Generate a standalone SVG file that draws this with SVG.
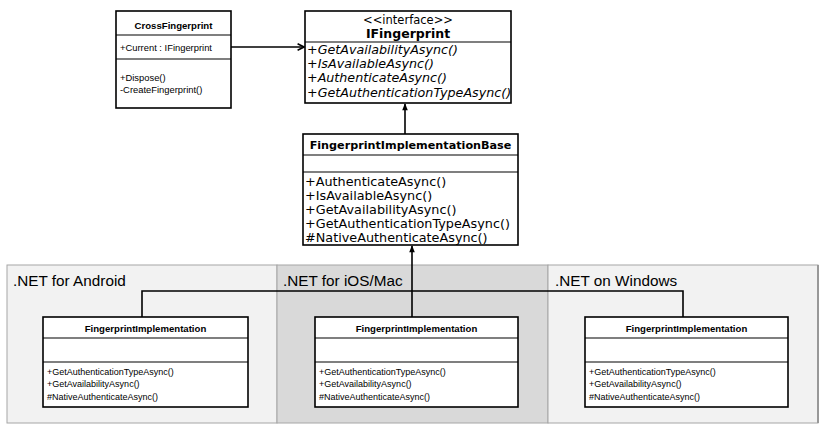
<svg xmlns="http://www.w3.org/2000/svg" width="825" height="432" viewBox="0 0 825 432">
<defs>
<style>
.box{fill:#fff;stroke:#000;stroke-width:1.6}
.div{stroke:#000;stroke-width:1.2}
.panel{stroke:#a6a6a6;stroke-width:1}
.conn{fill:none;stroke:#000;stroke-width:1.6}
.s{font-family:"Liberation Sans",Arial,sans-serif;font-size:9px;fill:#000}
.sb{font-family:"Liberation Sans",Arial,sans-serif;font-size:9.6px;font-weight:bold;fill:#000}
.m{font-family:"DejaVu Sans",Verdana,sans-serif;font-size:12.8px;fill:#000}
.mi{font-family:"DejaVu Sans",Verdana,sans-serif;font-size:12.7px;font-style:italic;fill:#000}
.mb{font-family:"DejaVu Sans",Verdana,sans-serif;font-size:11.2px;font-weight:bold;fill:#000}
.lbl{font-family:"Liberation Sans",Arial,sans-serif;font-size:15.3px;fill:#000}
</style>
<marker id="open" viewBox="0 0 10 10" refX="9" refY="5" markerWidth="8" markerHeight="8" markerUnits="userSpaceOnUse" orient="auto"><path d="M1,1 L9,5 L1,9" fill="none" stroke="#000" stroke-width="2"/></marker>
<marker id="tri" viewBox="0 0 10 10" refX="9" refY="5" markerWidth="8" markerHeight="7" markerUnits="userSpaceOnUse" orient="auto"><path d="M0,1 L10,5 L0,9 Z" fill="#000"/></marker>
</defs>
<rect width="825" height="432" fill="#fff"/>
<g id="panels">
<rect class="panel" x="7" y="265" width="270" height="158" fill="#f2f2f2"/>
<rect class="panel" x="277" y="265" width="271" height="158" fill="#d9d9d9"/>
<rect class="panel" x="548" y="265" width="270" height="158" fill="#f2f2f2"/>
<line x1="818" y1="265" x2="818" y2="423" stroke="#999" stroke-width="2"/>
<text class="lbl" x="13" y="286">.NET for Android</text>
<text class="lbl" x="283" y="286">.NET for iOS/Mac</text>
<text class="lbl" x="555" y="286">.NET on Windows</text>
</g>
<g id="connectors">
<line class="conn" x1="231" y1="47" x2="304" y2="47" marker-end="url(#open)"/>
<line class="conn" x1="405" y1="134" x2="405" y2="104" marker-end="url(#tri)"/>
<line class="conn" x1="412" y1="317" x2="412" y2="246" marker-end="url(#tri)"/>
<polyline class="conn" points="142,317 142,291 683,291 683,317"/>
</g>
<g id="CrossFingerprint">
<rect class="box" x="116" y="11" width="115" height="97"/>
<line class="div" x1="116" y1="35" x2="231" y2="35"/>
<line class="div" x1="116" y1="59" x2="231" y2="59"/>
<text class="sb" x="173.5" y="29" text-anchor="middle">CrossFingerprint</text>
<text class="s" x="120" y="51" style="font-size:9.4px">+Current : IFingerprint</text>
<text class="s" x="120" y="81" style="font-size:9.4px">+Dispose()</text>
<text class="s" x="120" y="93" style="font-size:9.4px">-CreateFingerprint()</text>
</g>
<g id="IFingerprint">
<rect class="box" x="305" y="11" width="206" height="92"/>
<line class="div" x1="305" y1="42" x2="511" y2="42"/>
<text class="m" x="408" y="24" text-anchor="middle" style="font-size:11.5px">&lt;&lt;interface&gt;&gt;</text>
<text class="mb" x="408" y="38" text-anchor="middle" style="font-size:12.5px">IFingerprint</text>
<text class="mi" x="307" y="54">+GetAvailabilityAsync()</text>
<text class="mi" x="307" y="68">+IsAvailableAsync()</text>
<text class="mi" x="307" y="82">+AuthenticateAsync()</text>
<text class="mi" x="307" y="97">+GetAuthenticationTypeAsync()</text>
</g>
<g id="FingerprintImplementationBase">
<rect class="box" x="303" y="134" width="215" height="111"/>
<line class="div" x1="303" y1="155" x2="518" y2="155"/>
<line class="div" x1="303" y1="172" x2="518" y2="172"/>
<text class="mb" x="410.5" y="149" text-anchor="middle">FingerprintImplementationBase</text>
<text class="m" x="305" y="186">+AuthenticateAsync()</text>
<text class="m" x="305" y="200">+IsAvailableAsync()</text>
<text class="m" x="305" y="214">+GetAvailabilityAsync()</text>
<text class="m" x="305" y="228">+GetAuthenticationTypeAsync()</text>
<text class="m" x="305" y="242">#NativeAuthenticateAsync()</text>
</g>
<g id="AndroidImpl">
<rect class="box" x="43" y="317" width="205" height="90"/>
<line class="div" x1="43" y1="338" x2="248" y2="338"/>
<line class="div" x1="43" y1="362" x2="248" y2="362"/>
<text class="sb" x="145.5" y="332" text-anchor="middle">FingerprintImplementation</text>
<text class="s" x="47" y="375">+GetAuthenticationTypeAsync()</text>
<text class="s" x="47" y="387">+GetAvailabilityAsync()</text>
<text class="s" x="47" y="400">#NativeAuthenticateAsync()</text>
</g>
<g id="iOSImpl">
<rect class="box" x="315" y="317" width="203" height="90"/>
<line class="div" x1="315" y1="338" x2="518" y2="338"/>
<line class="div" x1="315" y1="362" x2="518" y2="362"/>
<text class="sb" x="416.5" y="332" text-anchor="middle">FingerprintImplementation</text>
<text class="s" x="319" y="375">+GetAuthenticationTypeAsync()</text>
<text class="s" x="319" y="387">+GetAvailabilityAsync()</text>
<text class="s" x="319" y="400">#NativeAuthenticateAsync()</text>
</g>
<g id="WindowsImpl">
<rect class="box" x="585" y="317" width="203" height="90"/>
<line class="div" x1="585" y1="338" x2="788" y2="338"/>
<line class="div" x1="585" y1="362" x2="788" y2="362"/>
<text class="sb" x="686.5" y="332" text-anchor="middle">FingerprintImplementation</text>
<text class="s" x="589" y="375">+GetAuthenticationTypeAsync()</text>
<text class="s" x="589" y="387">+GetAvailabilityAsync()</text>
<text class="s" x="589" y="400">#NativeAuthenticateAsync()</text>
</g>
</svg>
